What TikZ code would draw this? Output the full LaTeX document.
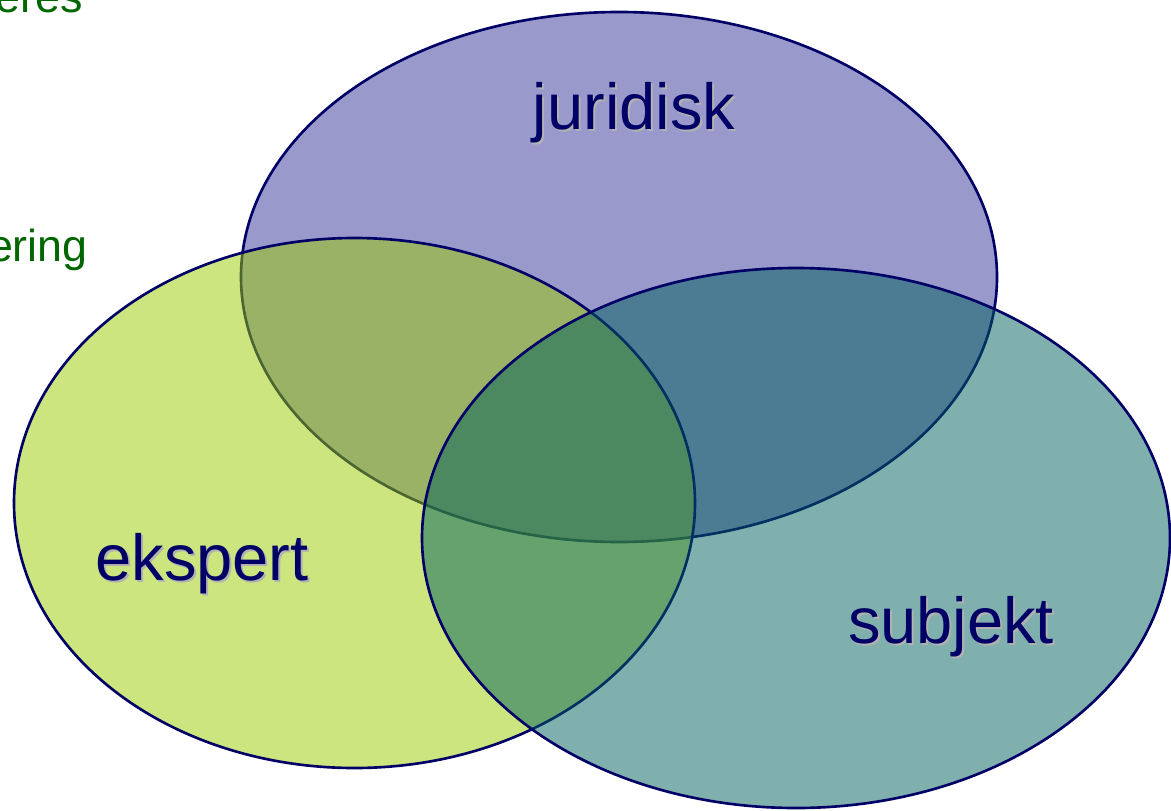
\documentclass[tikz,border=0pt]{standalone}
\usepackage{fontspec}
\setmainfont{Liberation Sans}
\usepackage{xcolor}
\usepackage{tikz}
\usetikzlibrary{shapes,arrows}
\definecolor{navy}{RGB}{0,0,102}
\definecolor{slidegreen}{RGB}{0,102,0}
\definecolor{jurfill}{RGB}{153,153,204}
\definecolor{eksfill}{RGB}{153,204,0}
\definecolor{subfill}{RGB}{0,97,93}
\definecolor{shadowgray}{RGB}{178,178,178}
\tikzstyle{venn} = [ellipse, draw=navy, line width=1.5pt, inner sep=0pt]
\tikzstyle{label} = [text=navy, font=\fontsize{37}{44}\selectfont, anchor=base]
\tikzstyle{labelshadow} = [text=shadowgray, font=\fontsize{37}{44}\selectfont, anchor=base]
\tikzstyle{slidetext} = [text=slidegreen, font=\fontsize{25.5}{30}\selectfont, anchor=base east, inner sep=0pt]

\begin{document}
\begin{tikzpicture}
			\useasboundingbox (0,0) rectangle (23.42,-16.2);
			% Slide text behind the diagram
			\node [slidetext] (eres) at (1.66,-0.26) {eres};
			\node [slidetext] (ering) at (1.76,-5.22) {ering};
			% Place sets
			\node [venn, fill=jurfill, minimum width=15.12cm, minimum height=10.6cm] (juridisk) at (12.38,-5.54) {};
			\node [venn, fill=eksfill, fill opacity=0.5, minimum width=13.62cm, minimum height=10.6cm] (ekspert) at (7.09,-10.06) {};
			\node [venn, fill=subfill, fill opacity=0.5, minimum width=14.96cm, minimum height=10.8cm] (subjekt) at (15.92,-10.76) {};
			% Labels with shadow
			\node [labelshadow] (juridiskShadow) at (12.72,-2.64) {juridisk};
			\node [label] (juridiskLabel) at (12.68,-2.60) {juridisk};
			\node [labelshadow] (ekspertShadow) at (4.08,-11.64) {ekspert};
			\node [label] (ekspertLabel) at (4.04,-11.60) {ekspert};
			\node [labelshadow] (subjektShadow) at (19.06,-12.90) {subjekt};
			\node [label] (subjektLabel) at (19.02,-12.86) {subjekt};
\end{tikzpicture}
\end{document}
